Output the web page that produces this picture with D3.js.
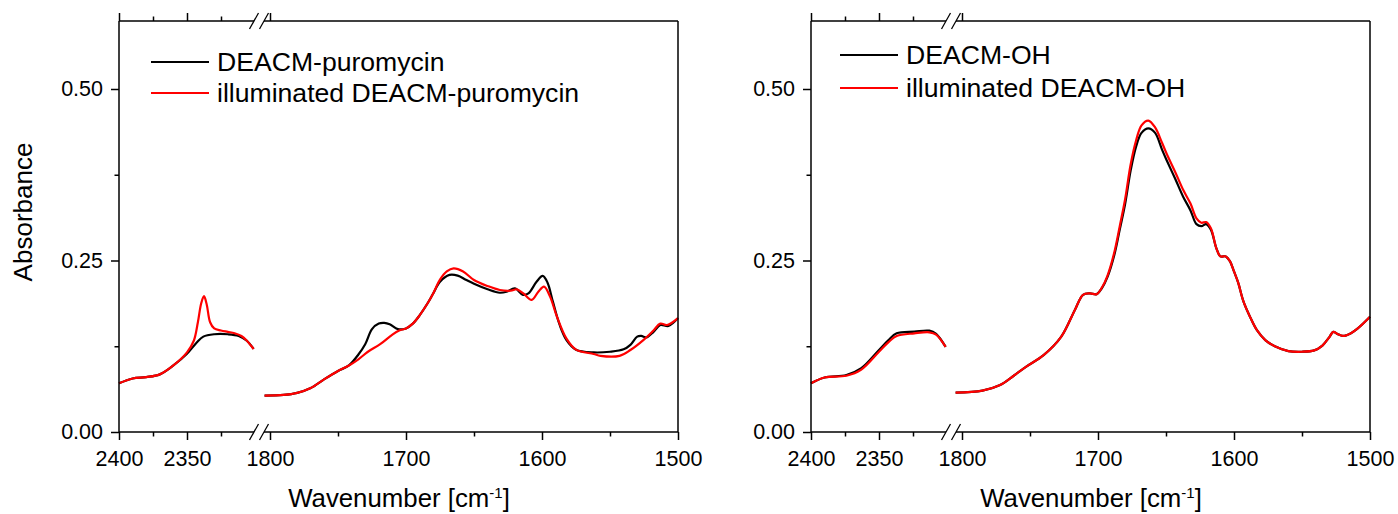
<!DOCTYPE html>
<html><head><meta charset="utf-8">
<script src="https://cdn.jsdelivr.net/npm/d3@7"></script>
<style>
body{margin:0;background:#fff}
svg{display:block}
text{font-family:"Liberation Sans",Arial,sans-serif;fill:#000}
</style>
</head><body>
<svg id="c" width="1398" height="514"></svg>
<script>
// ---------- tick values ----------
const yTicks = [0, 0.25, 0.5];
const yMinor = [0.125, 0.375];
const xTicksHigh = [2400, 2350];
const xMinorHigh = [2375, 2325];
const xTicksLow = [1800, 1700, 1600, 1500];
const xMinorLow = [1750, 1650, 1550];

// ---------- series: DEACM-puromycin (left panel) ----------
const puroHighW = [2400,2390,2380,2370,2360,2350,2343,2338,2330,2320,2312,2306,2301];
const puroHighA = [0.071,0.078,0.080,0.084,0.097,0.114,0.130,0.139,0.1425,0.1425,0.140,0.133,0.121];
const puroIllHighW = [2400,2390,2380,2370,2360,2350,2345,2342,2339.5,2337.5,2335.5,2333,2330,2325,2320,2315,2310,2306,2301];
const puroIllHighA = [0.071,0.078,0.080,0.084,0.097,0.116,0.133,0.160,0.188,0.198,0.186,0.160,0.151,0.148,0.146,0.144,0.140,0.133,0.121];

const puroLowW = [1804,1790,1780,1770,1760,1750,1742,1735,1730,1725,1720,1716,1712,1706,1700,1695,1690,1684,1680,1675,1668,1662,1656,1650,1640,1631,1626,1620,1614,1610,1604,1599.5,1596,1592,1587,1582,1575,1562,1550,1540,1535,1530,1527,1523,1518,1513,1507,1500];
const puroLowA = [0.053,0.054,0.057,0.064,0.077,0.089,0.097,0.113,0.128,0.150,0.158,0.159,0.157,0.150,0.151,0.158,0.170,0.188,0.202,0.219,0.229,0.228,0.222,0.216,0.208,0.203,0.2045,0.2095,0.200,0.202,0.219,0.2275,0.218,0.190,0.156,0.134,0.120,0.116,0.117,0.1205,0.127,0.139,0.140,0.138,0.146,0.156,0.1545,0.166];
const puroIllLowW = [1804,1790,1780,1770,1760,1750,1742,1735,1728,1719,1710,1705,1700,1695,1690,1684,1680,1675,1670,1665,1658,1650,1640,1631,1623,1618.5,1613.7,1607.6,1602.7,1598.5,1594,1589,1582,1575,1562,1557,1543,1535,1525.5,1518,1513,1508,1500];
const puroIllLowA = [0.053,0.054,0.057,0.064,0.077,0.089,0.097,0.106,0.117,0.128,0.142,0.148,0.151,0.158,0.170,0.188,0.202,0.222,0.234,0.2385,0.234,0.2216,0.2128,0.207,0.206,0.208,0.202,0.1925,0.2045,0.212,0.197,0.168,0.136,0.120,0.1137,0.111,0.111,0.1195,0.134,0.148,0.158,0.156,0.166];

// ---------- series: DEACM-OH (right panel) ----------
const ohHighW = [2400,2390,2374,2363,2350,2343,2337,2324,2313,2308,2301];
const ohHighA = [0.071,0.0795,0.083,0.093,0.1195,0.134,0.1438,0.1462,0.1477,0.143,0.124];
const ohIllHighW = [2400,2390,2374,2363,2350,2343,2337,2324,2313,2308,2301];
const ohIllHighA = [0.071,0.0795,0.082,0.091,0.117,0.131,0.140,0.1438,0.1453,0.142,0.124];

const ohLowW = [1804.7,1785,1772,1762,1753,1740,1727,1717,1711,1706,1701,1697,1693,1688,1684,1680,1676,1672,1668,1663,1658,1653,1649.6,1643,1637.4,1632,1627.6,1624,1620.5,1617,1613,1610,1606,1603,1600,1597,1593,1588,1583,1577,1570,1560,1550,1541,1535,1530,1527,1524,1520,1514,1509,1500];
const ohLowA = [0.0573,0.0603,0.0685,0.082,0.095,0.112,0.139,0.178,0.200,0.202,0.201,0.210,0.226,0.258,0.295,0.333,0.381,0.416,0.436,0.4427,0.436,0.412,0.3965,0.368,0.343,0.323,0.303,0.300,0.303,0.295,0.268,0.256,0.256,0.249,0.234,0.218,0.190,0.167,0.148,0.134,0.125,0.118,0.117,0.119,0.126,0.138,0.146,0.143,0.140,0.144,0.151,0.168];
const ohIllLowW = [1804.7,1785,1772,1762,1753,1740,1727,1717,1711,1706,1701,1697,1693,1688,1684,1680,1676,1672,1668,1663,1658,1653,1649.6,1643,1637.4,1632,1627.6,1624,1620.5,1617,1613,1610,1606,1603,1600,1597,1593,1588,1583,1577,1570,1560,1550,1541,1535,1530,1527,1524,1520,1514,1509,1500];
const ohIllLowA = [0.0573,0.0603,0.0685,0.082,0.095,0.112,0.139,0.178,0.200,0.202,0.201,0.211,0.228,0.262,0.300,0.340,0.390,0.425,0.447,0.454,0.444,0.422,0.406,0.378,0.353,0.333,0.3115,0.305,0.306,0.297,0.268,0.256,0.256,0.249,0.234,0.218,0.190,0.167,0.148,0.134,0.125,0.118,0.117,0.119,0.126,0.138,0.146,0.143,0.140,0.144,0.151,0.168];

const legendNames = [["DEACM-puromycin","illuminated DEACM-puromycin"],["DEACM-OH","illuminated DEACM-OH"]];
const colors = ["#000000","#ff0000"];

const zip = (w,a) => w.map((d,i)=>({w:d,a:a[i]}));

const panels = [
  {left:119, series:[[zip(puroHighW,puroHighA),zip(puroLowW,puroLowA)],[zip(puroIllHighW,puroIllHighA),zip(puroIllLowW,puroIllLowA)]], names:legendNames[0], leg:{x:151,y1:62,y2:93}, xtitle:true, ytitle:true},
  {left:811, series:[[zip(ohHighW,ohHighA),zip(ohLowW,ohLowA)],[zip(ohIllHighW,ohIllHighA),zip(ohIllLowW,ohIllLowA)]], names:legendNames[1], leg:{x:840,y1:55,y2:88}, xtitle:true, ytitle:false}
];

const svg = d3.select("#c");
const Y0 = 432;
const y = d3.scaleLinear().domain([0,0.6]).range([Y0, Y0-0.6*686]);
const TOP = 21;
const AX = 1.5;

panels.forEach(p=>{
  const L = p.left, R = L+559;
  const xHigh = d3.scaleLinear().domain([2400,2300]).range([L, L+136]);
  const xLow = d3.scaleLinear().domain([1805,1500]).range([L+144.2, R]);
  const g = svg.append("g");

  // curves
  const scales=[xHigh,xLow];
  p.series.forEach((ser,si)=>{
    ser.forEach((seg,k)=>{
      const line = d3.line().x(d=>scales[k](d.w)).y(d=>y(d.a)).curve(d3.curveCatmullRom.alpha(0.5));
      g.append("path").attr("d",line(seg)).attr("fill","none").attr("stroke",colors[si]).attr("stroke-width",2.2).attr("stroke-linejoin","round");
    });
  });

  // axis frame with breaks
  const bx1 = L+135, bx2 = L+145;
  const ax = g.append("g").attr("stroke","#000").attr("stroke-width",AX).attr("fill","none");
  [Y0, TOP].forEach(yy=>{
    ax.append("line").attr("x1",L).attr("x2",bx1).attr("y1",yy).attr("y2",yy);
    ax.append("line").attr("x1",bx2).attr("x2",R).attr("y1",yy).attr("y2",yy);
    [bx1,bx2].forEach(bx=>{
      ax.append("line").attr("x1",bx-4.5).attr("y1",yy+8).attr("x2",bx+4.5).attr("y2",yy-8).attr("stroke-width",1.3);
    });
  });
  ax.append("line").attr("x1",L).attr("x2",L).attr("y1",TOP).attr("y2",Y0);
  ax.append("line").attr("x1",R).attr("x2",R).attr("y1",TOP).attr("y2",Y0);

  const fs = "21.5px";
  const styleAxis = sel=>{
    sel.select(".domain").remove();
    sel.selectAll("line").attr("stroke","#000").attr("stroke-width",AX);
    sel.selectAll("text").style("font-size",fs).style("font-family",'"Liberation Sans",Arial,sans-serif').attr("fill","#000");
  };
  // bottom axis
  g.append("g").attr("transform",`translate(0,${Y0})`).call(d3.axisBottom(xHigh).tickValues(xTicksHigh).tickSize(8).tickPadding(10.5).tickFormat(d3.format("d"))).call(styleAxis);
  g.append("g").attr("transform",`translate(0,${Y0})`).call(d3.axisBottom(xHigh).tickValues(xMinorHigh).tickSize(4.5).tickFormat("")).call(styleAxis);
  g.append("g").attr("transform",`translate(0,${Y0})`).call(d3.axisBottom(xLow).tickValues(xTicksLow).tickSize(8).tickPadding(10.5).tickFormat(d3.format("d"))).call(styleAxis);
  g.append("g").attr("transform",`translate(0,${Y0})`).call(d3.axisBottom(xLow).tickValues(xMinorLow).tickSize(4.5).tickFormat("")).call(styleAxis);
  // top axis
  g.append("g").attr("transform",`translate(0,${TOP})`).call(d3.axisTop(xHigh).tickValues(xTicksHigh).tickSize(8).tickFormat("")).call(styleAxis);
  g.append("g").attr("transform",`translate(0,${TOP})`).call(d3.axisTop(xHigh).tickValues(xMinorHigh).tickSize(4.5).tickFormat("")).call(styleAxis);
  g.append("g").attr("transform",`translate(0,${TOP})`).call(d3.axisTop(xLow).tickValues([xTicksLow[0]]).tickSize(8).tickFormat("")).call(styleAxis);
  // left axis
  g.append("g").attr("transform",`translate(${L},0)`).call(d3.axisLeft(y).tickValues(yTicks).tickSize(8).tickPadding(8).tickFormat(d3.format(".2f"))).call(styleAxis);
  g.append("g").attr("transform",`translate(${L},0)`).call(d3.axisLeft(y).tickValues(yMinor).tickSize(4.5).tickFormat("")).call(styleAxis);

  // legend
  [p.leg.y1,p.leg.y2].forEach((ly,i)=>{
    g.append("line").attr("x1",p.leg.x).attr("x2",p.leg.x+58).attr("y1",ly).attr("y2",ly).attr("stroke",colors[i]).attr("stroke-width",2.2);
    g.append("text").attr("x",p.leg.x+66).attr("y",ly+9).style("font-size","26.6px").text(p.names[i]);
  });

  // x title
  if(p.xtitle){
    const t = g.append("text").attr("x",L+280).attr("y",507).attr("text-anchor","middle").style("font-size","25.8px");
    t.append("tspan").text("Wavenumber [cm");
    t.append("tspan").attr("dy",-9).style("font-size","15px").text("-1");
    t.append("tspan").attr("dy",9).text("]");
  }
  if(p.ytitle){
    g.append("text").attr("transform",`translate(32,212) rotate(-90)`).attr("text-anchor","middle").style("font-size","26px").text("Absorbance");
  }
});
</script>
</body></html>
